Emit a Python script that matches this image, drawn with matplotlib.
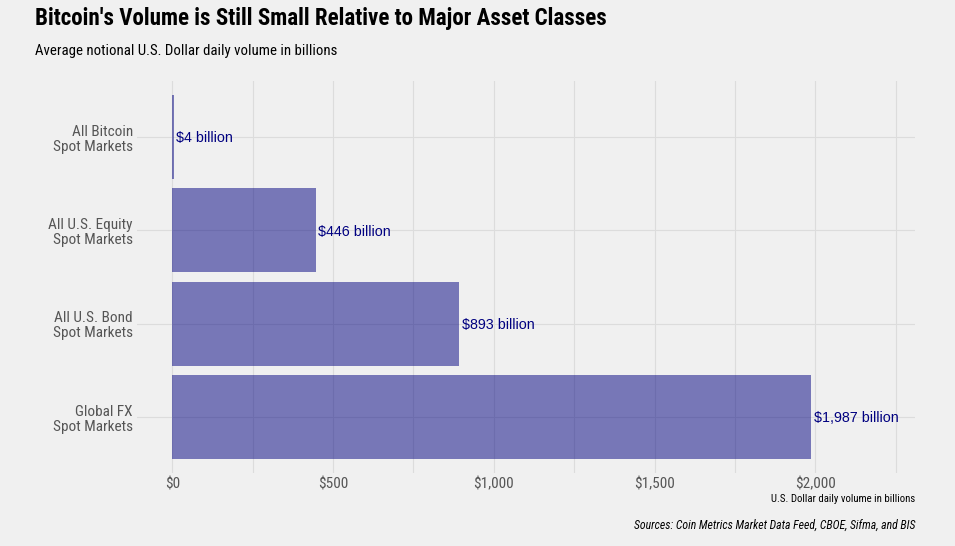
import matplotlib.pyplot as plt
from matplotlib import font_manager
from matplotlib.ticker import FuncFormatter, MultipleLocator

# data
categories = ['All Bitcoin\nSpot Markets', 'All U.S. Equity\nSpot Markets',
              'All U.S. Bond\nSpot Markets', 'Global FX\nSpot Markets']
volumes = [4, 446, 893, 1987]
value_labels = ['$4 billion', '$446 billion', '$893 billion', '$1,987 billion']

fonts = font_manager.fontManager.ttflist
names = {f.name for f in fonts}
bold_names = {f.name for f in fonts if f.weight in (700, 'bold')}


def pick(cands, need=names):
    for c in cands:
        if c in need:
            return c
    return 'DejaVu Sans'


narrow = pick(['Liberation Sans Narrow', 'Arial Narrow', 'Roboto Condensed', 'Archivo Narrow',
               'PT Sans Narrow', 'IBM Plex Sans Condensed'])
narrow_bold = pick(['Liberation Sans Narrow', 'Arial Narrow', 'Roboto Condensed', 'PT Sans Narrow',
                    'IBM Plex Sans Condensed', 'Asap Condensed', 'Fira Sans Condensed'], bold_names)
plt.rcParams['font.family'] = [narrow, 'DejaVu Sans']

bg = '#F0F0F0'
fig = plt.figure(figsize=(9.55, 5.46), dpi=100, facecolor=bg)
ax = fig.add_axes([0.1435, 0.1337, 0.958 - 0.1435, 0.8516 - 0.1337], facecolor=bg)

ypos = list(range(len(categories)))[::-1]
ax.barh(ypos, volumes, height=0.9, color='navy', alpha=0.5, zorder=2)
for y, v, lab in zip(ypos, volumes, value_labels):
    ax.text(v + 8, y - 0.015, lab, ha='left', va='center', color='navy', fontsize=10.3,
            family=['Liberation Sans', 'DejaVu Sans'], zorder=3)

ax.set_xlim(-110, 2310)
ax.set_ylim(-0.6, 3.6)
ax.xaxis.set_major_locator(MultipleLocator(500))
ax.xaxis.set_minor_locator(MultipleLocator(250))
ax.xaxis.set_major_formatter(FuncFormatter(lambda x, p: '${:,.0f}'.format(x)))
ax.set_yticks(ypos)
ax.set_yticklabels(categories, fontsize=11, color='#555555', linespacing=1.1)
ax.tick_params(axis='both', which='both', length=0)
ax.tick_params(axis='y', pad=3)
ax.tick_params(axis='x', labelsize=11, labelcolor='#555555', pad=3)
ax.grid(True, which='both', color='#DCDCDC', linewidth=0.8, zorder=0)
ax.set_axisbelow(True)
for s in ax.spines.values():
    s.set_visible(False)

title = fig.text(35 / 955, 1 - 19 / 546, "Bitcoin's Volume is Still Small Relative to Major Asset Classes",
                 fontsize=15, fontweight='bold', family=[narrow_bold, 'DejaVu Sans'],
                 ha='left', va='center')
sub = fig.text(35 / 955, 1 - 51 / 546, 'Average notional U.S. Dollar daily volume in billions',
               fontsize=10.2, ha='left', va='center')
xlab = fig.text(915 / 955, 1 - 499 / 546, 'U.S. Dollar daily volume in billions',
                fontsize=8, ha='right', va='center')
cap = fig.text(915 / 955, 1 - 525 / 546, 'Sources: Coin Metrics Market Data Feed, CBOE, Sifma, and BIS',
               fontsize=8, style='italic', ha='right', va='center')

# scale header/footer texts to the widths seen in the reference
renderer = fig.canvas.get_renderer()
for t, w in [(title, 573), (sub, 298), (xlab, 143), (cap, 280)]:
    cur = t.get_window_extent(renderer).width
    t.set_fontsize(t.get_fontsize() * w / cur)

fig.savefig('out.png', dpi=100, facecolor=bg)
